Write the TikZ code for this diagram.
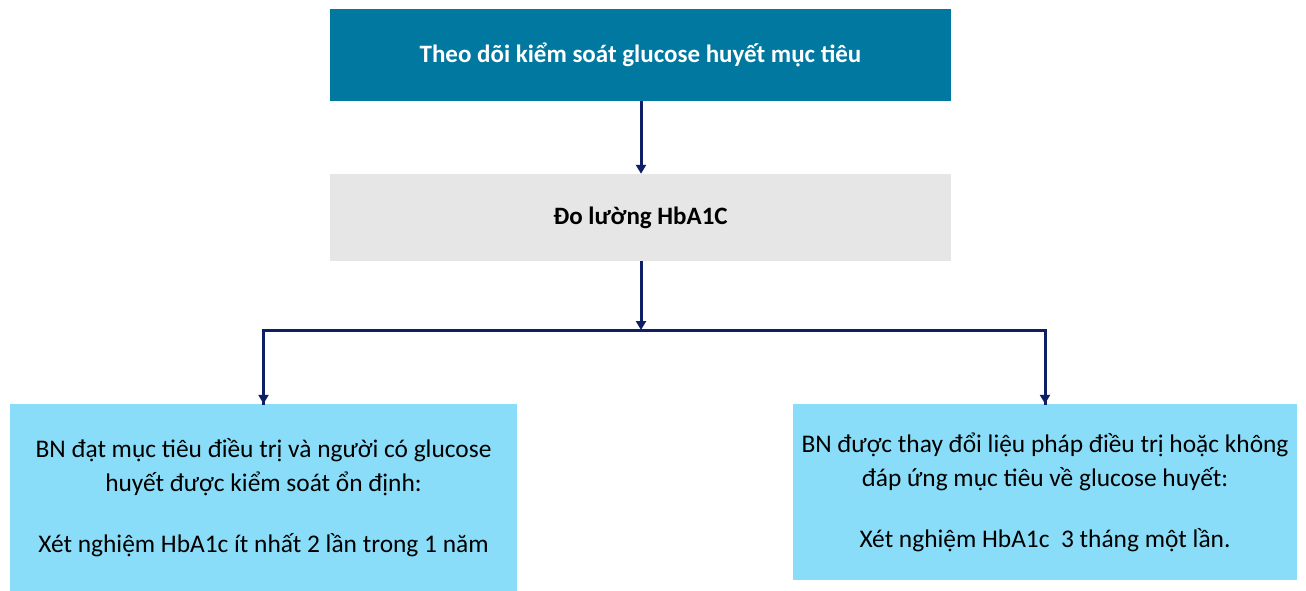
\documentclass[tikz,border=0pt]{standalone}
\usepackage{fontspec}
\setmainfont{Carlito}
\usetikzlibrary{arrows.meta}
\definecolor{topblue}{HTML}{00789F}
\definecolor{midgray}{HTML}{E6E6E6}
\definecolor{lightblue}{HTML}{8ADDF8}
\definecolor{navy}{HTML}{0F1F66}
\tikzset{
  box/.style={rectangle, inner sep=0pt, align=center, font=\fontsize{25.4}{34}\selectfont},
  arr/.style={navy, line width=3pt, -{Triangle[width=10pt,length=9pt]}},
  ln/.style={navy, line width=3pt},
}
\begin{document}
\begin{tikzpicture}[x=1pt,y=-1pt]
\useasboundingbox (0,0) rectangle (1306,591);
\node[box, fill=topblue, text=white, font=\bfseries\fontsize{25}{28}\selectfont, minimum width=621pt, minimum height=92pt] (top) at (640.5,55) {Theo dõi kiểm soát glucose huyết mục tiêu};
\node[box, fill=midgray, text=black, font=\bfseries\fontsize{25}{28}\selectfont, minimum width=621pt, minimum height=87pt] (mid) at (640.5,217.5) {Đo lường HbA1C};
\node[box, fill=lightblue, minimum width=507pt, minimum height=187pt] (left) at (263.5,497.5) {BN đạt mục tiêu điều trị và người có glucose\\huyết được kiểm soát ổn định:\\[27pt]Xét nghiệm HbA1c ít nhất 2 lần trong 1 năm};
\node[box, fill=lightblue, minimum width=504pt, minimum height=176pt] (right) at (1045,492) {BN được thay đổi liệu pháp điều trị hoặc không\\đáp ứng mục tiêu về glucose huyết:\\[27pt]Xét nghiệm HbA1c\ \ 3 tháng một lần.};
\coordinate (j) at (641,330);
\draw[arr] (top.south -| j) -- (mid.north -| j);
\draw[arr] (mid.south -| j) -- (j);
\draw[ln] (j) -| ([yshift=-1pt]left.north);
\draw[ln] (j) -| ([yshift=-1pt]right.north);
\draw[arr] (j -| left.north) -- (left.north);
\draw[arr] (j -| right.north) -- (right.north);
\end{tikzpicture}
\end{document}
